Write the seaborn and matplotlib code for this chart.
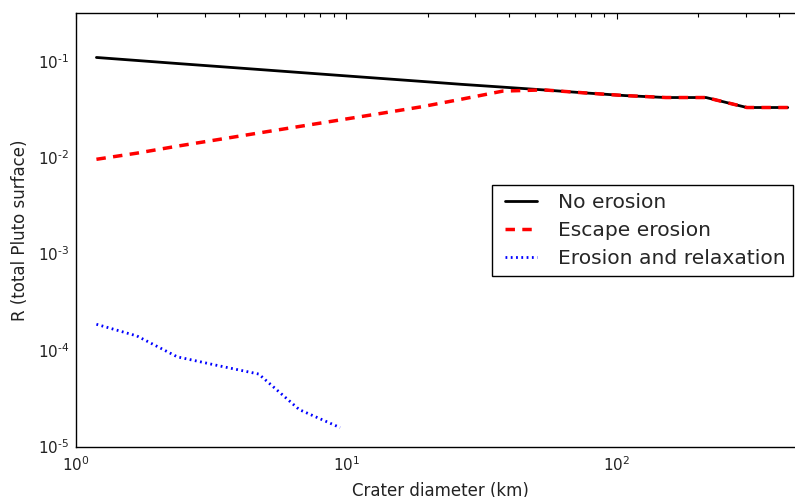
import seaborn as sns
import matplotlib
matplotlib.use("Agg")
import matplotlib.pyplot as plt
from matplotlib.ticker import FuncFormatter
from matplotlib.lines import Line2D
from matplotlib.legend_handler import HandlerLine2D
import numpy as np

# crater diameters (km), sqrt(2) bins
diam_km = [1.19, 1.68, 2.37, 3.35, 4.74, 6.70, 9.48, 13.4, 19.0, 26.8, 37.9,
           53.6, 75.8, 107, 152, 214, 303, 429]
no_erosion = [0.108, 0.1005, 0.0935, 0.0871, 0.0811, 0.0755, 0.0703, 0.0655,
              0.0610, 0.0568, 0.0532, 0.0498, 0.0464, 0.0435, 0.0415, 0.0415,
              0.0327, 0.0327]
escape_erosion = [0.0095, 0.0110, 0.0130, 0.0152, 0.0178, 0.0208, 0.0243,
                  0.0284, 0.0333, 0.0400, 0.0484, 0.0498, 0.0464, 0.0435,
                  0.0415, 0.0415, 0.0327, 0.0327]
diam_relax = diam_km[:7]
erosion_relax = [1.85e-4, 1.40e-4, 8.5e-5, 6.9e-5, 5.64e-5, 2.41e-5, 1.57e-5]

sns.set_theme(style="white")
plt.rcParams['font.family'] = ['DejaVu Sans']
plt.rcParams['lines.scale_dashes'] = False

fig = plt.figure(figsize=(7.95, 4.97), dpi=100)
ax = fig.add_axes([76 / 795, 50.5 / 497, 729.7 / 795, 433.2 / 497])

sns.lineplot(x=diam_km, y=no_erosion, color="black", linewidth=2,
             label="No erosion", ax=ax)
l2 = sns.lineplot(x=diam_km, y=escape_erosion, color="red", linewidth=2.5,
                  label="Escape erosion", ax=ax).lines[-1]
l2.set_dashes((6.8, 5.3))
l3 = sns.lineplot(x=diam_relax, y=erosion_relax, color="blue", linewidth=2,
                  label="Erosion and relaxation", ax=ax).lines[-1]
l3.set_dashes((1.3, 2.5))

ax.set_xscale("log")
ax.set_yscale("log")
ax.set_xlim(1, 500)
ax.set_ylim(1e-5, 0.31)


def pow10(v, pos):
    e = int(round(np.log10(v)))
    if e < 0:
        return r"$\mathdefault{10^{\text{-}%d}}$" % (-e)
    return r"$\mathdefault{10^{%d}}$" % e


ax.xaxis.set_major_formatter(FuncFormatter(pow10))
ax.yaxis.set_major_formatter(FuncFormatter(pow10))

for s in ax.spines.values():
    s.set_color("black")
    s.set_linewidth(1)
ax.spines['right'].set_visible(False)
ax.tick_params(which="both", direction="in", top=True, right=False,
               colors="black", width=0.8)
ax.tick_params(which="major", length=4.5, labelsize=11)
ax.tick_params(which="minor", length=3)
ax.tick_params(axis="x", pad=6)
ax.tick_params(axis="y", pad=5)
ax.tick_params(labelcolor="#222222")

ax.set_xlabel("Crater diameter (km)", fontsize=12, color="#222222", labelpad=6)
ax.set_ylabel("R (total Pluto surface)", fontsize=12, color="#222222", labelpad=6)

leg = ax.legend(loc="upper left", bbox_to_anchor=(492 / 795, 1 - 185 / 497),
                bbox_transform=fig.transFigure, borderaxespad=0,
                fontsize=14.6, frameon=True, fancybox=False, framealpha=1,
                edgecolor="black", handlelength=1.83, handletextpad=1.03,
                labelspacing=0.46, borderpad=0.38,
                handler_map={Line2D: HandlerLine2D(xpad=0.26)})
leg.get_frame().set_linewidth(1)

fig.savefig("out.png", dpi=100)
